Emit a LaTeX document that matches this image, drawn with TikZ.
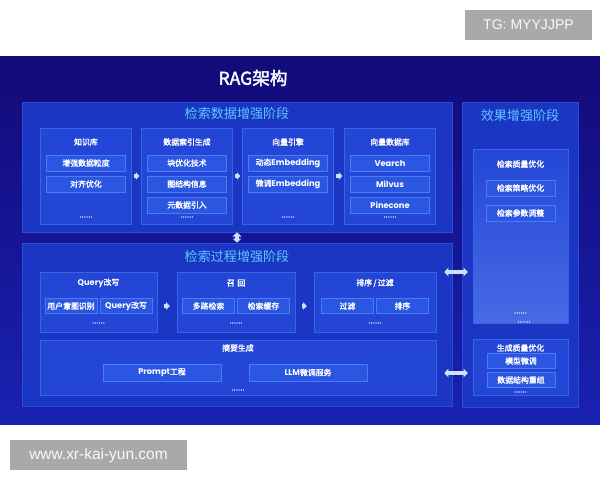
\documentclass[tikz,border=0pt]{standalone}
\usepackage{fontspec}
\setmainfont[AutoFakeBold=2]{Noto Sans CJK SC}
\newfontfamily\wmfont{Liberation Sans}
\newfontfamily\latin[Scale=1.05]{Poppins}
\usepackage{tikz}
\usetikzlibrary{arrows.meta}
\definecolor{bgtop}{HTML}{120A78}
\definecolor{bgbot}{HTML}{1A22B2}
\definecolor{panelc}{HTML}{1C36C4}
\definecolor{panelb}{HTML}{2A4CD8}
\definecolor{boxc}{HTML}{2446D6}
\definecolor{boxb}{HTML}{3A64E8}
\definecolor{itemc}{HTML}{2B56E2}
\definecolor{itemb}{HTML}{4A7CF2}
\definecolor{headc}{HTML}{5EC6FF}
\definecolor{dotc}{HTML}{D8E4FF}
\definecolor{arrc}{HTML}{CFE0FF}
\definecolor{wmc}{HTML}{A9A9A9}

\begin{document}
\begin{tikzpicture}[x=0.025cm, y=-0.025cm, text=white, font=\fontsize{5.6}{6}\selectfont,
    sz/.style 2 args={minimum width=#1*0.025cm, minimum height=#2*0.025cm, inner sep=0pt},
    panel/.style={fill=panelc, draw=panelb, line width=0.4pt},
    box/.style={fill=boxc, draw=boxb, line width=0.3pt},
    item/.style={fill=itemc, draw=itemb, line width=0.3pt, font=\bfseries\fontsize{5.6}{6}\selectfont},
    head/.style={font=\fontsize{9.3}{10}\selectfont, text=headc},
    sub/.style={font=\bfseries\fontsize{5.6}{6}\selectfont},
    dots/.style={font=\bfseries\fontsize{5.5}{6}\selectfont, text=dotc},
    flow/.style={-{Triangle[length=2.5pt,width=5pt]}, line width=2.2pt, draw=arrc, shorten <=#1, shorten >=#1},
    both/.style={{Triangle[length=3pt,width=6pt]}-{Triangle[length=3pt,width=6pt]}, line width=2.2pt, draw=arrc},
    wm/.style={fill=wmc, text=white!95!gray, font=\wmfont\fontsize{#1}{12}\selectfont}]
    \fill[white] (0,0) rectangle (600,480);
    \shade[top color=bgtop, bottom color=bgbot] (0,56) rectangle (600,424);
    \node[wm=10, sz={127}{30}] (tg) at (528.5,25) {TG: MYYJJPP};
    \node[wm=11, sz={177}{30}] (web) at (98.5,455) {www.xr-kai-yun.com};
    \node[font=\bfseries\fontsize{12.5}{14}\selectfont] (ttl) at (253,78) {RAG架构};

    % 检索数据增强阶段
    \node[panel, sz={430}{130}] (p1) at (237,167) {};
    \node[head] (p1t) at (237,114) {检索数据增强阶段};
    \foreach \n/\x/\t/\list in {1/86/知识库/{增强数据粒度,对齐优化},
                               2/187/数据索引生成/{块优化技术,图结构信息,元数据引入},
                               3/288/向量引擎/{动态{\latin Embedding},微调{\latin Embedding}},
                               4/390/向量数据库/{{\latin Vearch},{\latin Milvus},{\latin Pinecone}}}{
        \node[box, sz={91}{96}] (k\n) at (\x,176) {};
        \node[sub] (k\n t) at (\x,142) {\t};
        \foreach \s [count=\i] in \list
            \node[item, sz={79}{16}] (k\n-\i) at (\x,{142+21*\i}) {\s};
        \node[dots] (k\n d) at (\x,217) {......};
    }
    \foreach \a/\b in {k1/k2,k2/k3,k3/k4}
        \draw[flow=1.3pt] (\a) -- (\b);

    % 检索过程增强阶段
    \node[panel, sz={430}{163}] (p2) at (237,324.5) {};
    \node[head] (p2t) at (237,257) {检索过程增强阶段};
    \foreach \n/\x/\w/\t/\l/\r in {1/98.5/117/{{\latin Query}改写}/用户意图识别/{{\latin Query}改写},
                                   2/236/118/{召\,\,回}/多路检索/检索缓存,
                                   3/375/122/{排序\,/\,过滤}/过滤/排序}{
        \node[box, sz={\w}{60}] (q\n) at (\x,302) {};
        \node[sub] (q\n t) at (\x,283) {\t};
        \node[item, sz={52}{15}] (q\n-1) at ({\x-27.5},306) {\l};
        \node[item, sz={52}{15}] (q\n-2) at ({\x+27.5},306) {\r};
        \node[dots] (q\n d) at (\x,323) {......};
    }
    \foreach \a/\b in {q1/q2,q2/q3}
        \draw[flow=5pt] (\a.east |- 0,306) -- (\b.west |- 0,306);

    \node[box, sz={396}{55}] (sm) at (238,367.5) {};
    \node[sub] (smt) at (238,348) {摘要生成};
    \node[item, sz={118}{17}] (sm-1) at (162,372.5) {{\latin Prompt}工程};
    \node[item, sz={118}{17}] (sm-2) at (308,372.5) {{\latin LLM}微调服务};
    \node[dots] (smd) at (238,390) {......};

    \draw[both] (p1) -- (p2);

    % 效果增强阶段
    \node[panel, sz={116}{305}] (p3) at (520,254.5) {};
    \node[head] (p3t) at (520,116) {效果增强阶段};
    \node[box, sz={95}{174}, top color=boxc, bottom color=itemc!85!white!90!boxc] (r1) at (520.5,236) {};
    \node[sub] (r1t) at (520.5,164) {检索质量优化};
    \node[item, sz={69}{16}] (r1-1) at (520.5,188) {检索策略优化};
    \node[item, sz={69}{16}] (r1-2) at (520.5,213) {检索参数调整};
    \node[dots] (r1d) at (520.5,313) {......};
    \node[dots] (r1e) at (524,322) {......};
    \node[box, sz={95}{56}] (r2) at (520.5,367) {};
    \node[sub] (r2t) at (520.5,348) {生成质量优化};
    \node[item, sz={68}{15}] (r2-1) at (521,361) {模型微调};
    \node[item, sz={68}{15}] (r2-2) at (521,380) {数据结构重组};
    \node[dots] (r2d) at (520.5,392) {......};

    \foreach \y in {272,373}
        \draw[both, shorten <=-5.7pt, shorten >=-4.3pt] (p2.east |- 0,\y) -- (p3.west |- 0,\y);
\end{tikzpicture}
\end{document}
